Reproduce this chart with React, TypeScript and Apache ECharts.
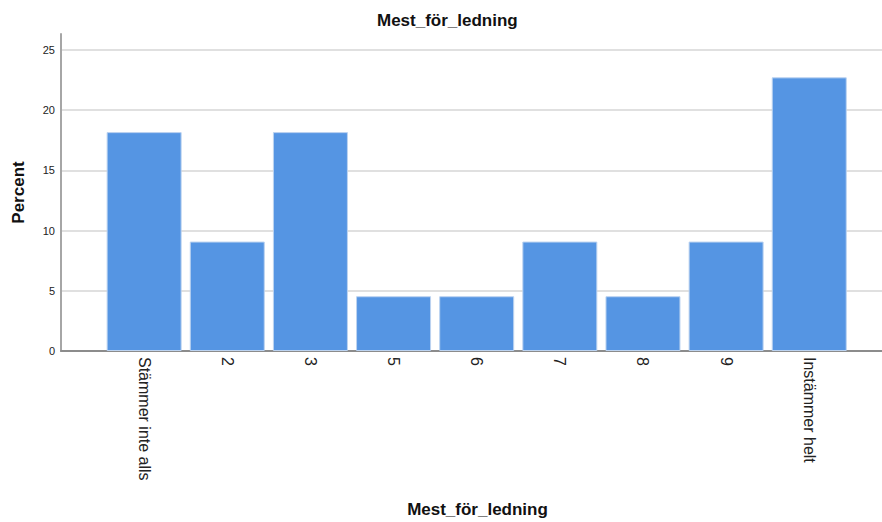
import React, { useEffect, useRef } from "react";
import * as echarts from "echarts";

const categories = ["Stämmer inte alls", "2", "3", "5", "6", "7", "8", "9", "Instämmer helt"];
const percents = [18.18, 9.09, 18.18, 4.55, 4.55, 9.09, 4.55, 9.09, 22.73];
const yTicks = [0, 5, 10, 15, 20, 25];

export default function App() {
  const ref = useRef<HTMLDivElement>(null);
  useEffect(() => {
    if (!ref.current) return;
    const chart = echarts.init(ref.current, undefined, { renderer: "svg" });
    const font = "'Liberation Sans', Arial, sans-serif";
    const gridColors = yTicks.map(() => "#d6d6d6").concat(["transparent"]);
    chart.setOption({
      animation: false,
      backgroundColor: "#ffffff",
      title: {
        text: "Mest_för_ledning",
        left: 372,
        top: 7,
        textStyle: { fontFamily: font, fontSize: 17, fontWeight: "bold", color: "#111" },
      },
      grid: { left: 61, right: 0, top: 34, bottom: 171, containLabel: false, outerBoundsMode: "none" },
      xAxis: {
        type: "value",
        min: 0,
        max: 9.875,
        interval: 1,
        name: "Mest_för_ledning",
        nameLocation: "middle",
        nameGap: 150,
        nameTextStyle: { fontFamily: font, fontSize: 17, fontWeight: "bold", color: "#111", padding: [0, 0, 0, 12] },
        axisLine: { show: true, onZero: false, lineStyle: { color: "#8c8c8c", width: 2 } },
        axisTick: { show: false },
        splitLine: { show: false },
        axisLabel: {
          rotate: -90,
          margin: 6,
          showMaxLabel: false,
          showMinLabel: false,
          fontFamily: font,
          fontSize: 16,
          color: "#222",
          formatter: (v: number) => {
            const i = Math.round(v);
            if (Math.abs(v - i) > 1e-6 || i < 1 || i > categories.length) return "";
            return categories[i - 1];
          },
        },
      },
      yAxis: {
        type: "value",
        min: 0,
        max: 26.33,
        interval: 5,
        name: "Percent",
        nameLocation: "middle",
        nameGap: 34,
        nameRotate: 90,
        nameTextStyle: { fontFamily: font, fontSize: 17, fontWeight: "bold", color: "#111" },
        axisLine: { show: true, lineStyle: { color: "#a6a6a6", width: 2 } },
        axisTick: { show: false },
        splitLine: { show: true, lineStyle: { color: gridColors, width: 1.5 } },
        axisLabel: {
          showMaxLabel: false,
          margin: 6,
          fontFamily: font,
          fontSize: 11,
          color: "#222",
        },
      },
      series: [
        {
          type: "bar",
          data: percents.map((v, i) => [i + 1, v]),
          barWidth: 75,
          itemStyle: { color: "#5595e3", borderColor: "#bcd3f0", borderWidth: 1 },
        },
      ],
    });
    return () => chart.dispose();
  }, []);
  return <div ref={ref} style={{ position: "fixed", left: 0, top: 0, width: 882, height: 522 }} />;
}
